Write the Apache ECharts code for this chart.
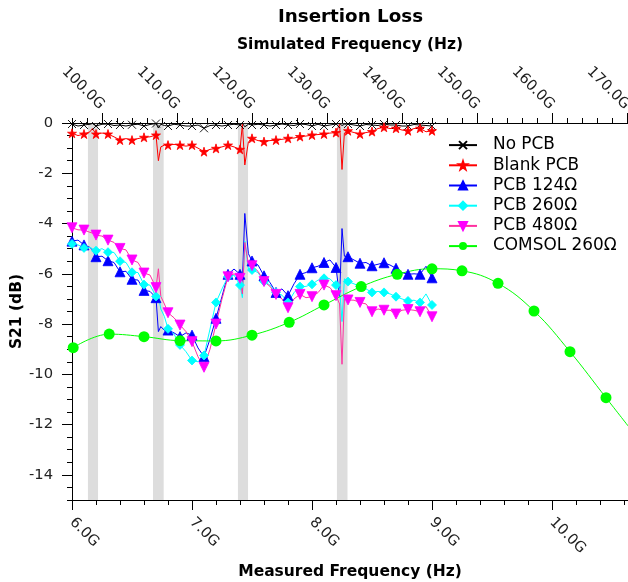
<!DOCTYPE html>
<html><head><meta charset="utf-8">
<script src="https://cdn.jsdelivr.net/npm/echarts@6/dist/echarts.min.js"></script>
<style>html,body{margin:0;padding:0;background:#fff}#c{width:628px;height:582px}</style>
</head><body><div id="c"></div>
<script>
// ---- data ----
const freq = [6.00,6.05,6.10,6.15,6.17,
  6.20,6.25,6.30,6.35,6.40,6.45,6.50,6.55,6.60,6.65,6.70,
  6.72,6.74,6.77,
  6.80,6.85,6.90,6.95,7.00,7.05,7.10,7.15,7.20,7.25,7.30,7.35,7.40,
  7.42,7.44,7.47,
  7.50,7.55,7.60,7.65,7.70,7.75,7.80,7.85,7.90,7.95,8.00,8.05,8.10,8.15,8.20,
  8.23,8.25,8.27,
  8.30,8.35,8.40,8.45,8.50,8.55,8.60,8.65,8.70,8.75,8.80,8.85,8.90,8.95,9.00];
const noPcb = [-0.04,-0.12,-0.08,-0.05,-0.02,
  -0.12,-0.05,-0.04,-0.10,-0.08,-0.12,-0.07,-0.05,-0.12,-0.06,-0.02,
  -0.20,-0.05,-0.10,
  -0.12,-0.05,-0.08,-0.12,-0.12,-0.08,-0.21,-0.10,-0.08,-0.12,-0.08,-0.05,-0.08,
  -0.01,-0.15,-0.05,
  -0.08,-0.05,-0.08,-0.12,-0.08,-0.04,-0.08,-0.10,-0.04,-0.06,-0.12,-0.05,-0.12,-0.08,-0.04,
  -0.02,-0.10,-0.05,
  -0.04,-0.08,-0.12,-0.06,-0.08,-0.10,-0.04,-0.08,-0.08,-0.12,-0.12,-0.06,-0.08,-0.10,-0.12];
const blankPcb = [-0.41,-0.50,-0.44,-0.35,-0.22,
  -0.44,-0.40,-0.44,-0.55,-0.68,-0.62,-0.68,-0.62,-0.57,-0.55,-0.48,
  -1.50,-0.95,-0.88,
  -0.88,-0.85,-0.88,-0.92,-0.88,-1.00,-1.14,-1.05,-1.01,-0.95,-0.88,-0.95,-1.05,
  -0.05,-1.67,-0.75,
  -0.61,-0.70,-0.74,-0.70,-0.68,-0.65,-0.61,-0.60,-0.54,-0.52,-0.48,-0.46,-0.44,-0.40,-0.38,
  -0.05,-1.85,-0.40,
  -0.31,-0.38,-0.44,-0.38,-0.34,-0.22,-0.17,-0.22,-0.21,-0.28,-0.31,-0.22,-0.21,-0.35,-0.31];
const pcb124 = [-4.70,-4.66,-4.85,-4.95,-5.05,
  -5.32,-5.30,-5.48,-5.55,-5.92,-5.90,-6.22,-6.25,-6.66,-6.70,-6.95,
  -8.30,-8.10,-8.25,
  -8.24,-8.35,-8.50,-8.35,-8.44,-8.95,-9.30,-8.60,-7.77,-6.90,-6.02,-5.81,-6.02,
  -6.30,-3.60,-5.20,
  -5.49,-5.65,-6.08,-6.35,-6.74,-6.60,-6.87,-6.40,-6.02,-5.95,-5.76,-5.70,-5.55,-5.45,-5.75,
  -6.90,-4.20,-5.30,
  -5.32,-5.45,-5.58,-5.55,-5.68,-5.62,-5.56,-5.65,-5.78,-5.95,-6.02,-6.00,-6.02,-5.70,-6.16];
const pcb260 = [-4.81,-4.85,-4.97,-4.95,-5.00,
  -5.08,-5.00,-5.14,-5.15,-5.50,-5.55,-5.94,-5.95,-6.43,-6.45,-6.90,
  -6.85,-7.40,-7.70,
  -8.19,-8.40,-8.83,-9.10,-9.45,-9.50,-9.25,-8.20,-7.14,-6.60,-6.12,-6.05,-6.45,
  -6.95,-4.70,-5.80,
  -5.85,-5.95,-6.31,-6.45,-6.74,-6.85,-7.14,-6.75,-6.51,-6.50,-6.42,-6.25,-6.18,-6.20,-6.45,
  -6.60,-7.90,-6.20,
  -6.31,-6.40,-6.50,-6.60,-6.74,-6.70,-6.74,-6.80,-6.91,-7.00,-7.08,-7.05,-7.14,-6.80,-7.24];
const pcb480 = [-4.17,-4.25,-4.26,-4.35,-4.38,
  -4.46,-4.50,-4.66,-4.75,-4.99,-5.05,-5.45,-5.55,-5.97,-6.05,-6.55,
  -5.80,-6.90,-7.20,
  -7.55,-7.75,-8.04,-8.30,-8.70,-9.30,-9.72,-9.00,-8.00,-7.00,-6.12,-6.00,-6.18,
  -6.80,-4.75,-5.60,
  -5.68,-5.90,-6.31,-6.50,-6.82,-7.00,-7.35,-7.00,-6.82,-6.95,-6.91,-6.75,-6.45,-6.55,-6.87,
  -7.20,-9.60,-7.00,
  -7.04,-7.05,-7.14,-7.20,-7.51,-7.40,-7.45,-7.45,-7.60,-7.45,-7.42,-7.45,-7.51,-7.30,-7.71];
const comsolFreq = [6.01,6.31,6.60,6.90,7.20,7.50,7.81,8.10,8.41,8.71,9.00,9.25,9.55,9.85,10.15,10.45,10.65];
const comsolVal = [-8.94,-8.40,-8.50,-8.66,-8.67,-8.44,-7.93,-7.24,-6.51,-6.02,-5.80,-5.88,-6.38,-7.48,-9.10,-10.93,-12.15];
const bandStart = [6.133,6.675,7.383,8.208];
const bandEnd = [6.217,6.764,7.467,8.296];
const measTicks = [6,7,8,9,10];
const simTicks = [100,110,120,130,140,150,160,170];
const yTicks = [0,-2,-4,-6,-8,-10,-12,-14];
const seriesNames = ['No PCB','Blank PCB','PCB 124Ω','PCB 260Ω','PCB 480Ω','COMSOL 260Ω'];

// ---- chart ----
const FONT = 'DejaVu Sans';
const xMin = 6, xMax = 6 + 556/120;
const simFactor = 16;

function build(vals){
  return freq.map((f,i)=>{
    const mk = Math.abs(f*10 - Math.round(f*10)) < 1e-6;
    return mk ? {value:[f, vals[i]]} : {value:[f, vals[i]], symbol:'none'};
  });
}
const starPath = 'path://M100,0L122.45,69.1L195.1,69.1L136.3,111.8L158.8,180.9L100,138.2L41.2,180.9L63.7,111.8L4.9,69.1L77.55,69.1Z';
const xPath = 'path://M0,0L10,10M10,0L0,10';
const downTri = 'path://M0,0L10,0L5,10Z';

function lineSeries(name, vals, symbol, size, lineColor, markColor, extra){
  return Object.assign({
    name, type:'line', xAxisIndex:0, yAxisIndex:0, data: build(vals),
    symbol, symbolSize:size, showSymbol:true,
    lineStyle:{color:lineColor, width:1},
    itemStyle:{color:markColor, borderColor:markColor, borderWidth:0.8},
    emphasis:{disabled:true}, animation:false
  }, extra||{});
}

const tickStyle = {color:'#000', width:1};
const labelFont = {fontSize:14.7, fontFamily:FONT, color:'#222'};
const nameFont = {fontSize:15.5, fontWeight:'bold', fontFamily:FONT, color:'#000'};

const option = {
  backgroundColor:'#fff',
  animation:false,
  title:{text:'Insertion Loss', left:278, top:8, padding:0,
    textStyle:{fontSize:18.3, fontWeight:'bold', fontFamily:FONT, color:'#000'}},
  grid:{left:72, top:123, width:556, height:377, containLabel:false, outerBoundsMode:'none'},
  legend:{orient:'vertical', left:448, top:135, padding:0, itemWidth:28, itemHeight:10, itemGap:0,
    data:seriesNames,
    textStyle:{fontSize:16.9, fontFamily:FONT, color:'#000', lineHeight:20.2, padding:[0,0,0,11]}},
  xAxis:[
    {type:'value', position:'bottom', min:xMin, max:xMax,
      axisLine:{show:true, onZero:false, lineStyle:tickStyle},
      axisTick:{show:true, length:10, customValues:measTicks, lineStyle:tickStyle},
      axisLabel:Object.assign({customValues:measTicks, formatter:v=>v.toFixed(1)+'G', rotate:-45, margin:20}, labelFont),
      splitLine:{show:false},
      name:'Measured Frequency (Hz)', nameLocation:'middle', nameGap:64,
      nameTextStyle:nameFont},
    {type:'value', position:'bottom', min:xMin, max:xMax, interval:0.2,
      axisLine:{show:false, onZero:false}, axisTick:{show:true, length:5, lineStyle:tickStyle},
      axisLabel:{show:false}, splitLine:{show:false}},
    {type:'value', position:'top', min:xMin*simFactor, max:xMax*simFactor,
      axisLine:{show:true, onZero:false, lineStyle:tickStyle},
      axisTick:{show:true, length:10, customValues:simTicks, lineStyle:tickStyle},
      axisLabel:Object.assign({customValues:simTicks, formatter:v=>v.toFixed(1)+'G', rotate:45, margin:16}, labelFont),
      splitLine:{show:false},
      name:'Simulated Frequency (Hz)', nameLocation:'middle', nameGap:70,
      nameTextStyle:nameFont},
    {type:'value', position:'top', min:xMin*simFactor, max:xMax*simFactor, interval:2,
      axisLine:{show:false, onZero:false}, axisTick:{show:true, length:5, lineStyle:tickStyle},
      axisLabel:{show:false}, splitLine:{show:false}}
  ],
  yAxis:[
    {type:'value', position:'left', min:-15, max:0,
      axisLine:{show:true, onZero:false, lineStyle:tickStyle},
      axisTick:{show:true, length:10, customValues:yTicks, lineStyle:tickStyle},
      axisLabel:Object.assign({customValues:yTicks, margin:19}, labelFont),
      splitLine:{show:false},
      name:'S21 (dB)', nameLocation:'middle', nameGap:47, nameMoveOverlap:false,
      nameTextStyle:nameFont},
    {type:'value', position:'left', min:-15, max:0, interval:0.5,
      axisLine:{show:false, onZero:false}, axisTick:{show:true, length:5, lineStyle:tickStyle},
      axisLabel:{show:false}, splitLine:{show:false}}
  ],
  series:[
    lineSeries('No PCB', noPcb, xPath, 8, '#000', '#000', {itemStyle:{color:'#000', borderColor:'#000', borderWidth:0.9}}),
    lineSeries('Blank PCB', blankPcb, starPath, 9, '#ff0000', '#ff0000'),
    lineSeries('PCB 124Ω', pcb124, 'triangle', 10, '#0000ff', '#0000ff'),
    lineSeries('PCB 260Ω', pcb260, 'diamond', 9, '#00ffff', '#00ffff'),
    lineSeries('PCB 480Ω', pcb480, downTri, 10, '#ff30a0', '#ff00ff'),
    {name:'COMSOL 260Ω', type:'line', xAxisIndex:0, yAxisIndex:0,
      data: comsolFreq.map((f,i)=>[f, comsolVal[i]]),
      smooth:0.4, symbol:'circle', symbolSize:11, showSymbol:true,
      lineStyle:{color:'#00ff00', width:1}, itemStyle:{color:'#00ff00'},
      emphasis:{disabled:true}, animation:false},
    {name:'bands', type:'line', xAxisIndex:0, yAxisIndex:0, data:[], z:10, silent:true,
      markArea:{silent:true, itemStyle:{color:'rgba(128,128,128,0.27)'}, label:{show:false},
        data: bandStart.map((s,i)=>[{xAxis:s},{xAxis:bandEnd[i]}])}}
  ]
};
const chart = echarts.init(document.getElementById('c'), null, {renderer:'canvas'});
chart.setOption(option);
</script>
</body></html>
